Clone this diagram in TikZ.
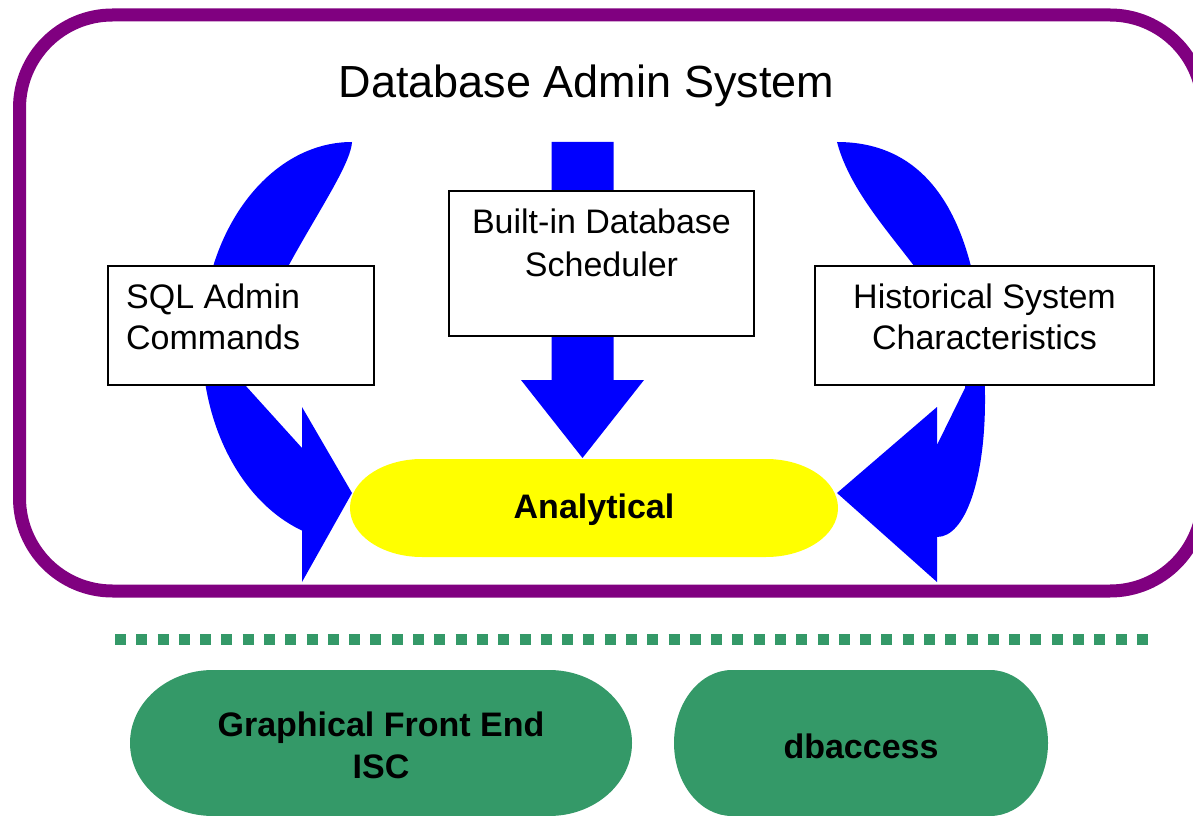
\documentclass[tikz,border=0pt]{standalone}
\usepackage{fontspec}
\setmainfont{Liberation Sans}
\definecolor{framepurple}{RGB}{128,0,128}
\definecolor{arrowblue}{RGB}{0,0,255}
\definecolor{padyellow}{RGB}{255,255,0}
\definecolor{seagreen}{RGB}{52,153,104}

\begin{document}
\begin{tikzpicture}[x=1pt,y=1pt,
  frame/.style={draw=framepurple, line width=13pt, rounded corners=93pt},
  flow/.style={fill=arrowblue},
  box/.style={draw=black, fill=white, line width=2pt, inner sep=0pt},
  boxtext/.style={inner sep=0pt, font=\fontsize{34}{41}\selectfont},
  pad/.style={fill=padyellow},
  tool/.style={fill=seagreen},
  labeltext/.style={inner sep=0pt, font=\bfseries\fontsize{34}{42}\selectfont},
  divider/.style={draw=seagreen, line width=11pt, dash pattern=on 11pt off 10.29pt}
]
\useasboundingbox (0,0) rectangle (1193,815);
\clip (0,0) rectangle (1193,815);

% outer system frame
\draw[frame] (19.5,800) rectangle (1203,224);

% title
\node[inner sep=0pt, anchor=base, font=\fontsize{45}{54}\selectfont] (title) at (586.5,717) {Database Admin System};

% curved arrow on the left
\fill[flow] (352,673)
  arc[start angle=90, end angle=250.53, x radius=150, y radius=200]
  -- (302,233) -- (352,322) -- (302,408) -- (302,367)
  -- (245,430)
  .. controls (250,515) and (350,635) .. (352,673) -- cycle;

% curved arrow on the right
\fill[flow] (837,673)
  .. controls (930,673) and (985,595) .. (985,415)
  .. controls (985,335) and (965,278) .. (937,278)
  -- (937,233) -- (837,322) -- (937,408) -- (937,370)
  -- (965,427)
  .. controls (975,515) and (860,585) .. (837,673) -- cycle;

% straight arrow in the middle
\fill[flow] (551.5,673) -- (613.5,673) -- (613.5,435) -- (644,435)
  -- (582.5,357) -- (521,435) -- (551.5,435) -- cycle;

% source boxes
\node[box, minimum width=266pt, minimum height=119pt] (sqlbox) at (241,489.5) {};
\node[box, minimum width=305pt, minimum height=145pt] (schedbox) at (601.5,551.5) {};
\node[box, minimum width=339pt, minimum height=119pt] (histbox) at (984.5,489.5) {};

% box captions (anchored at the baseline of their last line)
\node[boxtext, anchor=base west, align=left] (sqltext) at (126,465) {SQL Admin\\Commands};
\node[boxtext, anchor=base, align=center, font=\fontsize{34}{43}\selectfont] (schedtext) at (601.5,538) {Built-in Database\\Scheduler};
\node[boxtext, anchor=base, align=center] (histtext) at (984.5,465) {Historical System\\Characteristics};

% analytical pad
\fill[pad] (422,356) -- (766,356)
  arc[start angle=90, end angle=-90, x radius=72, y radius=49]
  -- (422,258)
  arc[start angle=270, end angle=90, x radius=72, y radius=49] -- cycle;
\node[labeltext, anchor=base] (analytical) at (594,297) {Analytical};

% divider
\coordinate (divl) at (115,175.5);
\coordinate (divr) at (1148,175.5);
\draw[divider] (divl) -- (divr);

% front-end tools
\fill[tool] (213,145) -- (549,145)
  arc[start angle=90, end angle=-90, x radius=83, y radius=73]
  -- (213,-1)
  arc[start angle=270, end angle=90, x radius=83, y radius=73] -- cycle;
\fill[tool] (732,145) -- (990,145)
  arc[start angle=90, end angle=-90, x radius=58, y radius=73]
  -- (732,-1)
  arc[start angle=270, end angle=90, x radius=58, y radius=73] -- cycle;

\node[labeltext, anchor=base, align=center] (gfe) at (381,37) {Graphical Front End\\ISC};
\node[labeltext, anchor=base] (dbaccess) at (861,57) {dbaccess};
\end{tikzpicture}
\end{document}
